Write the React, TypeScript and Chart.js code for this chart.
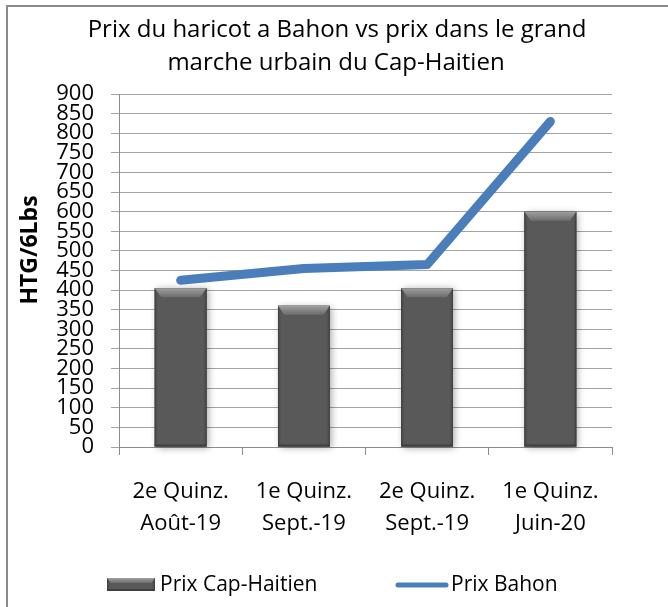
import React, { useEffect, useRef } from "react";
import { Chart, registerables } from "chart.js";
Chart.register(...registerables);

const categories = [
  ["2e Quinz.", "Août-19"],
  ["1e Quinz.", "Sept.-19"],
  ["2e Quinz.", "Sept.-19"],
  ["1e Quinz.", "Juin-20"],
];
const prixCapHaitien = [405, 360, 405, 600];
const prixBahon = [425, 455, 465, 830];
const seriesNames = ["Prix Cap-Haitien", "Prix Bahon"];
const titleLines = ["Prix du haricot a Bahon vs prix dans le grand", "marche urbain du Cap-Haitien"];
const yAxisTitle = "HTG/6Lbs";
const yMin = 0;
const yMax = 900;
const yStep = 50;

const FONT = "'Open Sans', sans-serif";
const BAR = "#595959";
const LINE = "#4a7ebb";
const GRID = "#a3a3a3";

function drawBevelRect(ctx: CanvasRenderingContext2D, l: number, t: number, r: number, b: number, e: number) {
  ctx.save();
  ctx.fillStyle = BAR;
  ctx.fillRect(l, t, r - l, b - t);
  const g = ctx.createLinearGradient(0, t, 0, t + e);
  g.addColorStop(0, "#a0a0a0");
  g.addColorStop(1, "#6c6c6c");
  ctx.beginPath();
  ctx.moveTo(l, t);
  ctx.lineTo(r, t);
  ctx.lineTo(r - e * 0.7, t + e);
  ctx.lineTo(l + e * 0.7, t + e);
  ctx.closePath();
  ctx.fillStyle = g;
  ctx.fill();
  const gl = ctx.createLinearGradient(l, 0, l + 4, 0);
  gl.addColorStop(0, "#3c3c3c");
  gl.addColorStop(1, "rgba(89,89,89,0)");
  ctx.fillStyle = gl;
  ctx.beginPath();
  ctx.moveTo(l, t);
  ctx.lineTo(l + e * 0.7, t + e);
  ctx.lineTo(l + 4, b - 2);
  ctx.lineTo(l, b);
  ctx.closePath();
  ctx.fill();
  const gr = ctx.createLinearGradient(r - 4, 0, r, 0);
  gr.addColorStop(0, "rgba(89,89,89,0)");
  gr.addColorStop(1, "#3c3c3c");
  ctx.fillStyle = gr;
  ctx.beginPath();
  ctx.moveTo(r, t);
  ctx.lineTo(r - e * 0.7, t + e);
  ctx.lineTo(r - 4, b - 2);
  ctx.lineTo(r, b);
  ctx.closePath();
  ctx.fill();
  ctx.fillStyle = "#3f3f3f";
  ctx.fillRect(l, b - 2, r - l, 2);
  ctx.restore();
}

const bevelPlugin = {
  id: "bevelBars",
  beforeDatasetDraw(chart: any, args: any) {
    if (args.meta.type !== "bar") return;
    const ctx = chart.ctx;
    args.meta.data.forEach((el: any) => {
      const { x, y, base, width } = el.getProps(["x", "y", "base", "width"], true);
      ctx.save();
      ctx.shadowColor = "rgba(0,0,0,0.35)";
      ctx.shadowBlur = 7;
      ctx.shadowOffsetX = 2;
      ctx.shadowOffsetY = 1;
      ctx.fillStyle = BAR;
      ctx.fillRect(x - width / 2, y, width, base - y);
      ctx.restore();
    });
  },
  afterDatasetDraw(chart: any, args: any) {
    if (args.meta.type !== "bar") return;
    const ctx = chart.ctx;
    args.meta.data.forEach((el: any) => {
      const { x, y, base, width } = el.getProps(["x", "y", "base", "width"], true);
      drawBevelRect(ctx, x - width / 2, y, x + width / 2, base, 9);
    });
  },
};

const decorPlugin = {
  id: "decor",
  afterDraw(chart: any) {
    const ctx: CanvasRenderingContext2D = chart.ctx;
    ctx.save();
    ctx.fillStyle = "#000";
    ctx.textBaseline = "middle";
    ctx.textAlign = "center";
    ctx.font = `24px ${FONT}`;
    ctx.fillText(titleLines[0], 337, 30);
    ctx.fillText(titleLines[1], 336, 63);
    ctx.save();
    ctx.translate(30, 250);
    ctx.rotate(-Math.PI / 2);
    ctx.font = `bold 23px ${FONT}`;
    ctx.fillText(yAxisTitle, 0, 0);
    ctx.restore();
    ctx.textAlign = "left";
    ctx.font = `21px ${FONT}`;
    drawBevelRect(ctx, 107, 578, 155, 591, 5);
    ctx.fillStyle = "#000";
    ctx.fillText(seriesNames[0], 160, 585);
    ctx.strokeStyle = LINE;
    ctx.lineWidth = 5;
    ctx.lineCap = "round";
    ctx.beginPath();
    ctx.moveTo(398, 585);
    ctx.lineTo(446, 585);
    ctx.stroke();
    ctx.fillText(seriesNames[1], 451, 585);
    ctx.restore();
  },
};

export default function App() {
  const ref = useRef<HTMLCanvasElement>(null);
  useEffect(() => {
    if (!ref.current) return;
    const chart = new Chart(ref.current, {
      type: "bar",
      data: {
        labels: categories,
        datasets: [
          {
            type: "line",
            label: seriesNames[1],
            data: prixBahon,
            borderColor: LINE,
            backgroundColor: LINE,
            borderWidth: 9,
            borderCapStyle: "round",
            borderJoinStyle: "round",
            pointRadius: 0,
            tension: 0,
            order: 0,
          } as any,
          {
            type: "bar",
            label: seriesNames[0],
            data: prixCapHaitien,
            backgroundColor: BAR,
            borderWidth: 0,
            categoryPercentage: 1,
            barPercentage: 0.42,
            order: 1,
          },
        ],
      },
      options: {
        responsive: false,
        animation: false,
        layout: { padding: { top: 94, right: 56, left: 0, bottom: 0 } },
        plugins: { legend: { display: false }, title: { display: false }, tooltip: { enabled: false } },
        scales: {
          x: {
            offset: true,
            grid: { display: true, drawOnChartArea: false, drawTicks: true, tickLength: 8, offset: true, color: "#8c8c8c" },
            border: { display: true, color: "#8c8c8c" },
            ticks: { color: "#000", font: { family: FONT, size: 22, lineHeight: 1.45 }, padding: 21, maxRotation: 0, autoSkip: false },
            afterFit: (s: any) => {
              s.height = 160;
            },
          },
          y: {
            min: yMin,
            max: yMax,
            grid: { color: GRID, tickLength: 8, drawTicks: true },
            border: { display: true, color: "#8c8c8c" },
            ticks: { stepSize: yStep, autoSkip: false, color: "#000", font: { family: FONT, size: 22 }, padding: 17 },
            afterFit: (s: any) => {
              s.width = 119;
            },
          },
        },
      },
      plugins: [bevelPlugin, decorPlugin],
    });
    return () => chart.destroy();
  }, []);
  return (
    <div style={{ position: "fixed", left: 0, top: 0, width: 668, height: 607, background: "#fff", overflow: "hidden" }}>
      <div
        style={{
          position: "absolute",
          left: 6,
          top: 5,
          width: 700,
          height: 700,
          borderTop: "2px solid #8a8a8a",
          borderLeft: "2px solid #8a8a8a",
        }}
      />
      <canvas ref={ref} width={668} height={607} style={{ position: "absolute", left: 0, top: 0 }} />
    </div>
  );
}
